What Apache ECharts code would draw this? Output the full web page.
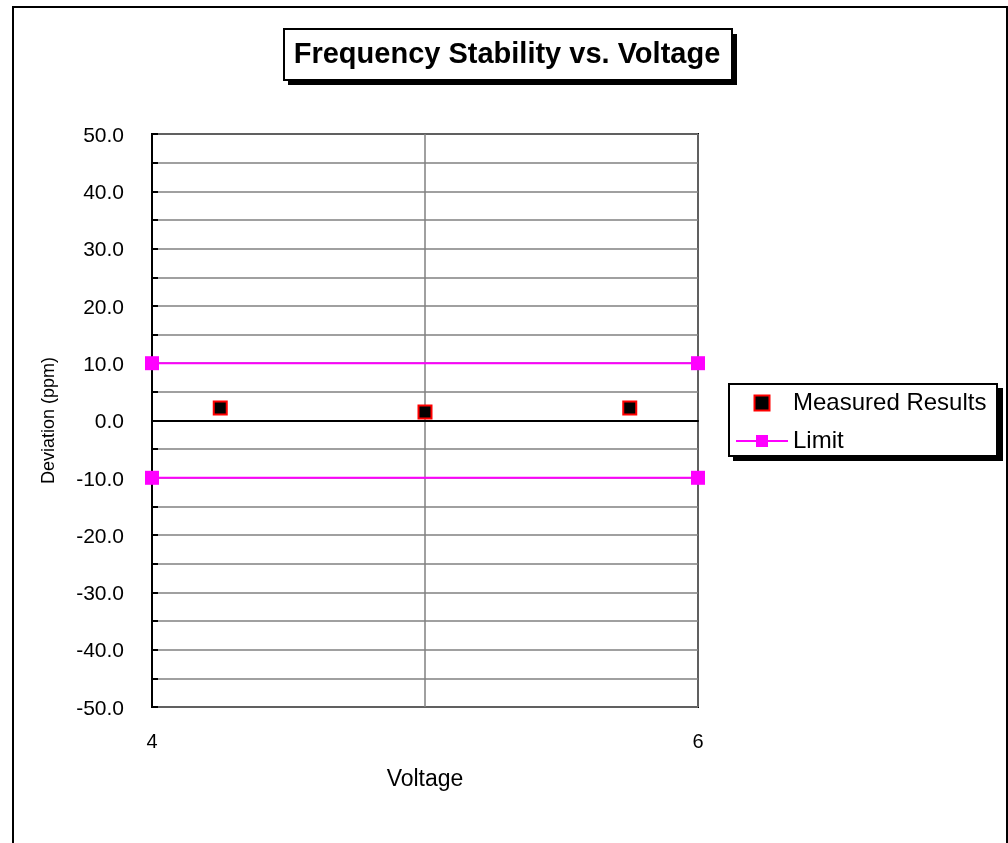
<!DOCTYPE html>
<html>
<head>
<meta charset="utf-8">
<script src="https://cdn.jsdelivr.net/npm/echarts@6/dist/echarts.min.js"></script>
<style>
  html, body { margin: 0; padding: 0; background: #fff; }
  #chart { width: 1008px; height: 843px; }
</style>
</head>
<body>
<div id="chart"></div>
<script>
// Measured frequency deviation at each supply voltage
const voltages = [4.25, 5.0, 5.75];
const deviations = [2.2, 1.5, 2.2];

// Upper and lower deviation limits
const limitVoltages = [4, 6];
const limitUpper = [10, 10];
const limitLower = [-10, -10];

const chartTitle = 'Frequency Stability vs. Voltage';
const xName = 'Voltage';
const yName = 'Deviation (ppm)';

const FONT = '"Liberation Sans", Arial, sans-serif';

const measuredData = voltages.map((v, i) => [v, deviations[i]]);
const upperData = limitVoltages.map((v, i) => [v, limitUpper[i]]);
const lowerData = limitVoltages.map((v, i) => [v, limitLower[i]]);

const chart = echarts.init(document.getElementById('chart'), null, { renderer: 'canvas' });

const limitStyle = {
  type: 'line',
  name: 'Limit',
  symbol: 'rect',
  symbolSize: 14,
  clip: false,
  itemStyle: { color: '#FF00FF', opacity: 1 },
  lineStyle: { color: '#FF00FF', width: 2 },
  z: 4
};

chart.setOption({
  animation: false,
  backgroundColor: '#ffffff',
  textStyle: { fontFamily: FONT },
  grid: {
    left: 152, right: 310, top: 134, bottom: 136,
    show: true, borderColor: '#000', borderWidth: 2, backgroundColor: 'transparent'
  },
  xAxis: {
    type: 'value',
    min: 4, max: 6, interval: 1,
    name: xName,
    nameLocation: 'middle',
    nameGap: 61,
    nameTextStyle: { fontSize: 23, color: '#000', fontFamily: FONT },
    axisLine: { show: true, lineStyle: { color: '#000', width: 2 } },
    axisTick: { show: false },
    axisLabel: {
      margin: 25, fontSize: 20, color: '#000', fontFamily: FONT,
      formatter: v => (v === 5 ? '' : String(v))
    },
    splitLine: { show: true, lineStyle: { color: '#808080', width: 1.5 } }
  },
  yAxis: {
    type: 'value',
    min: -50, max: 50, interval: 5,
    name: yName,
    nameLocation: 'middle',
    nameGap: 94,
    nameTextStyle: { fontSize: 18, color: '#000', fontFamily: FONT },
    axisLine: { show: true, lineStyle: { color: '#000', width: 2 } },
    axisTick: { show: true, inside: true, length: 6, lineStyle: { color: '#000', width: 2 } },
    axisLabel: {
      margin: 28, color: '#000', fontFamily: FONT,
      formatter: v => (Math.round(v) % 10 === 0 ? '{t|' + v.toFixed(1) + '}' : ''),
      rich: {
        t: { fontSize: 21, color: '#000', fontFamily: FONT, padding: [4, 0, 0, 0] }
      }
    },
    splitLine: { show: true, lineStyle: { color: '#808080', width: 1.5 } }
  },
  legend: {
    left: 735, top: 391,
    padding: 0,
    orient: 'vertical',
    itemWidth: 52, itemHeight: 15,
    itemGap: 14,
    symbolKeepAspect: true,
    textStyle: { fontSize: 24, color: '#000', fontFamily: FONT },
    data: [
      { name: 'Measured Results', icon: 'path://M0 0H10V10H0Z' },
      { name: 'Limit' }
    ]
  },
  graphic: [
    // outer chart frame
    { type: 'rect', shape: { x: 13, y: 7, width: 994, height: 900 },
      style: { fill: 'none', stroke: '#000', lineWidth: 2 }, z: 100, silent: true },
    // title box with drop shadow
    { type: 'rect', shape: { x: 288, y: 34, width: 449, height: 51 },
      style: { fill: '#000' }, z: 1 },
    { type: 'rect', shape: { x: 284, y: 29, width: 448, height: 51 },
      style: { fill: '#fff', stroke: '#000', lineWidth: 2 }, z: 2 },
    { type: 'text', x: 507, y: 55, z: 3,
      style: { text: chartTitle, font: 'bold 29px ' + FONT, fill: '#000',
               textAlign: 'center', textVerticalAlign: 'middle' } },
    // legend box with drop shadow
    { type: 'rect', shape: { x: 733, y: 388, width: 270, height: 73 },
      style: { fill: '#000' }, z: 1 },
    { type: 'rect', shape: { x: 729, y: 384, width: 268, height: 72 },
      style: { fill: '#fff', stroke: '#000', lineWidth: 2 }, z: 2 }
  ],
  series: [
    {
      type: 'scatter',
      name: 'Measured Results',
      data: measuredData,
      symbol: 'rect',
      symbolSize: 13,
      itemStyle: { color: '#000', borderColor: '#FF0000', borderWidth: 2, opacity: 1 },
      z: 5
    },
    Object.assign({}, limitStyle, {
      data: upperData,
      markLine: {
        silent: true,
        symbol: 'none',
        label: { show: false },
        lineStyle: { color: '#000', width: 2, type: 'solid' },
        data: [{ yAxis: 0 }],
        z: 3
      }
    }),
    Object.assign({}, limitStyle, { data: lowerData })
  ]
});
</script>
</body>
</html>
